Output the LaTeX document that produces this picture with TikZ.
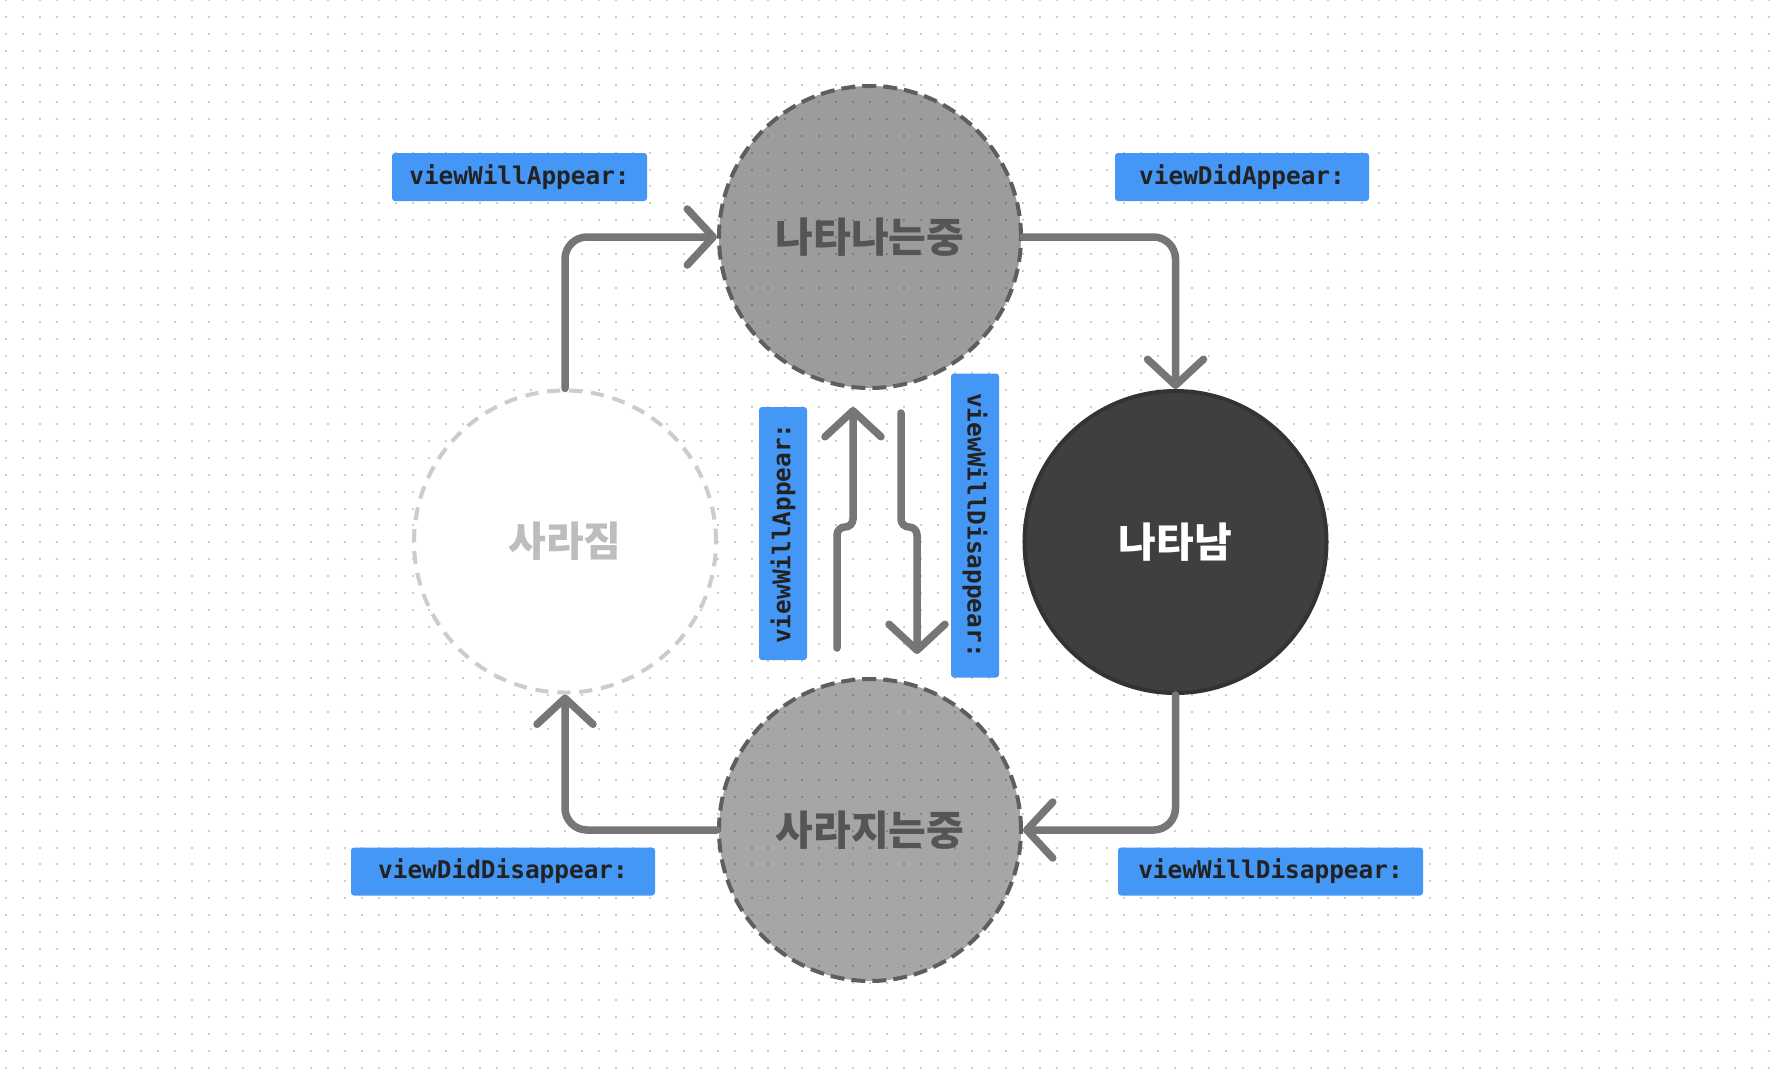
\documentclass[tikz,border=0pt]{standalone}
\usepackage{fontspec}
\usepackage{color}
\usepackage{tikz}
\usetikzlibrary{arrows.meta}
\setmonofont{DejaVu Sans Mono}
\newfontfamily\kr{Noto Sans CJK KR}
\definecolor{dotgray}{HTML}{CDCDCD}
\definecolor{linegray}{HTML}{767676}
\definecolor{rimgray}{HTML}{5E5E5E}
\definecolor{graytext}{HTML}{555555}
\definecolor{palerim}{HTML}{CCCCCC}
\definecolor{paletext}{HTML}{BDBDBD}
\definecolor{darkfill}{HTML}{3F3F3F}
\definecolor{darkrim}{HTML}{333333}
\definecolor{callblue}{HTML}{4597F5}
\definecolor{calltext}{HTML}{222222}

\begin{document}
\begin{tikzpicture}[x=0.5pt, y=-0.5pt]
\tikzset{statenode/.style={circle,minimum size=151pt,inner sep=0,line width=2pt,
  font=\kr\bfseries\fontsize{20.5}{24}\selectfont},
greystate/.style={statenode,fill=black,fill opacity=0.39,text opacity=1,draw=rimgray,
  dash pattern=on 7pt off 3.5pt,text=graytext},
palestate/.style={statenode,fill=white,draw=palerim,dash pattern=on 6.5pt off 4.5pt,text=paletext},
darkstate/.style={statenode,fill=darkfill,draw=darkrim,text=white},
callbox/.style={fill=callblue,rounded corners=1.5pt,inner sep=0,minimum height=24pt,
  text=calltext,font=\ttfamily\bfseries\fontsize{12.2}{14}\selectfont},
flowline/.style={draw=linegray,line width=3.75pt,line cap=round,rounded corners=11pt,
  -{Straight Barb[length=13pt,width=28pt,round]}},
dotrow/.style={draw=dotgray,line width=1pt,dash pattern=on 1pt off 7.475pt}}

\useasboundingbox (0,0) rectangle (1772,1078);
\fill[white] (0,0) rectangle (1772,1078);
\foreach \j in {0,...,63} \draw[dotrow] (4.7,\j*16.95) -- (1772,\j*16.95);

%% States
\node (appearing) [greystate] at (870, 237) {\raisebox{-2pt}{나타나는중}};
\node (gone) [palestate] at (565, 541.5) {\raisebox{-2pt}{사라짐}};
\node (shown) [darkstate] at (1175.5, 542) {\raisebox{-2pt}{나타남}};
\node (disappearing) [greystate,fill opacity=0.35] at (870, 830) {\raisebox{-2pt}{사라지는중}};

%% Edges
\draw[flowline] (gone.north) |- (appearing.west);
\draw[flowline] (appearing.east) -| (shown.north);
\draw[flowline] (shown.south) |- (disappearing.east);
\draw[flowline] (disappearing.west) -| (gone.south);

\coordinate (upstart) at (837, 648);
\coordinate (upend) at (853, 407);
\coordinate (downstart) at (901, 413);
\coordinate (downend) at (917, 654);
\draw[flowline,rounded corners=4pt] (upstart) -- ++(0,-121) -- ++(16,0) -- (upend);
\draw[flowline,rounded corners=4pt] (downstart) -- ++(0,114) -- ++(16,0) -- (downend);

%% Calls
\node (willappear) [callbox,minimum width=127.5pt] at (519.5, 177) {viewWillAppear:};
\node (didappear) [callbox,minimum width=127pt] at (1242, 177) {viewDidAppear:};
\node (diddisappear) [callbox,minimum width=152pt] at (503, 871.5) {viewDidDisappear:};
\node (willdisappear) [callbox,minimum width=152.5pt] at (1270.5, 871.5) {viewWillDisappear:};
\node (willappearmid) [callbox,minimum width=126.5pt,rotate=90] at (783, 533.5) {viewWillAppear:};
\node (willdisappearmid) [callbox,minimum width=152pt,rotate=-90] at (975, 525.5) {viewWillDisappear:};

\end{tikzpicture}
\end{document}
